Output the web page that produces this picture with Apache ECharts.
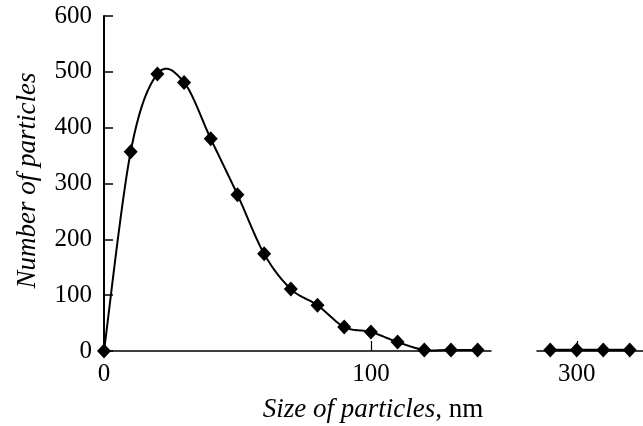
<!DOCTYPE html>
<html>
<head>
<meta charset="utf-8">
<script src="https://cdn.jsdelivr.net/npm/echarts@6/dist/echarts.min.js"></script>
<style>
html,body{margin:0;padding:0;background:#fff;}
#chart{width:643px;height:426px;}
</style>
</head>
<body>
<div id="chart"></div>
<script>
// Data
const sizesMain = [0, 10, 20, 30, 40, 50, 60, 70, 80, 90, 100, 110, 120, 130, 140];
const countsMain = [0, 357, 496, 481, 380, 280, 174, 111, 82, 43, 34, 16, 2, 2, 2];
const sizesTail = [290, 300, 310, 320];
const countsTail = [2, 2, 2, 2];
const yTicks = [0, 100, 200, 300, 400, 500, 600];
const xTicksMain = [0, 100];
const xTicksTail = [300];

const FONT = 'Liberation Serif';
const chart = echarts.init(document.getElementById('chart'));

const mainData = sizesMain.map((s, i) => [s, countsMain[i]]);
const tailData = sizesTail.map((s, i) => [s, countsTail[i]]);

const labelStyle = {color: '#000', fontFamily: FONT, fontSize: 25};

// Catmull-Rom spline through the data points, in pixel space (via the axes)
function splineRender(params, api) {
  if (params.dataIndex !== 0) return null;
  const pts = mainData.map(d => api.coord(d));
  const out = [];
  const n = pts.length;
  for (let i = 0; i < n - 1; i++) {
    const p0 = pts[Math.max(0, i - 1)], p1 = pts[i], p2 = pts[i + 1], p3 = pts[Math.min(n - 1, i + 2)];
    const c1 = [p1[0] + (p2[0] - p0[0]) / 6, p1[1] + (p2[1] - p0[1]) / 6];
    const c2 = [p2[0] - (p3[0] - p1[0]) / 6, p2[1] - (p3[1] - p1[1]) / 6];
    const steps = 24;
    for (let s = (i === 0 ? 0 : 1); s <= steps; s++) {
      const t = s / steps, u = 1 - t;
      const a = u * u * u, b = 3 * u * u * t, c = 3 * u * t * t, d = t * t * t;
      out.push([a * p1[0] + b * c1[0] + c * c2[0] + d * p2[0],
                a * p1[1] + b * c1[1] + c * c2[1] + d * p2[1]]);
    }
  }
  return {
    type: 'polyline',
    shape: {points: out},
    style: {stroke: '#000', lineWidth: 2, fill: null},
    silent: true
  };
}

chart.setOption({
  animation: false,
  backgroundColor: '#fff',
  title: {
    text: '{i|Size of particles}{r|, nm}',
    left: 368,
    textAlign: 'center',
    top: 391,
    textStyle: {
      fontWeight: 'normal',
      rich: {
        i: {fontFamily: FONT, fontStyle: 'italic', fontWeight: 'normal', fontSize: 27, color: '#000'},
        r: {fontFamily: FONT, fontWeight: 'normal', fontSize: 27, color: '#000'}
      }
    }
  },
  grid: [
    {left: 104, width: 387, top: 16, bottom: 75, containLabel: false},
    {left: 537, width: 107, top: 16, bottom: 75, containLabel: false}
  ],
  xAxis: [
    {
      type: 'value', gridIndex: 0, min: 0, max: 145,
      axisLine: {show: true, lineStyle: {color: '#000', width: 1.6}},
      axisTick: {show: true, inside: true, length: 10, customValues: xTicksMain, lineStyle: {color: '#000', width: 1.2}},
      axisLabel: Object.assign({customValues: xTicksMain, margin: 11}, labelStyle),
      splitLine: {show: false}
    },
    {
      type: 'value', gridIndex: 1, min: 285, max: 325,
      axisLine: {show: true, lineStyle: {color: '#000', width: 1.6}},
      axisTick: {show: true, inside: true, length: 10, customValues: xTicksTail, lineStyle: {color: '#000', width: 1.2}},
      axisLabel: Object.assign({customValues: xTicksTail, margin: 11}, labelStyle),
      splitLine: {show: false}
    }
  ],
  yAxis: [
    {
      type: 'value', gridIndex: 0, min: 0, max: 600, interval: 100,
      name: 'Number of particles',
      nameLocation: 'middle',
      nameGap: 63,
      nameTextStyle: {fontFamily: FONT, fontStyle: 'italic', fontSize: 27, color: '#000', padding: [0, 0, 0, 6]},
      axisLine: {show: true, lineStyle: {color: '#000', width: 2}},
      axisTick: {show: true, inside: true, length: 9, lineStyle: {color: '#000', width: 1.5}},
      axisLabel: Object.assign({margin: 12}, labelStyle),
      splitLine: {show: false}
    },
    {
      type: 'value', gridIndex: 1, min: 0, max: 600, interval: 100, show: false
    }
  ],
  series: [
    {
      type: 'custom', xAxisIndex: 0, yAxisIndex: 0,
      data: mainData, renderItem: splineRender, z: 2
    },
    {
      type: 'scatter', xAxisIndex: 0, yAxisIndex: 0,
      data: mainData, clip: false,
      symbol: 'diamond', symbolSize: [14, 15],
      itemStyle: {color: '#000', opacity: 1}, z: 3
    },
    {
      type: 'line', xAxisIndex: 1, yAxisIndex: 1,
      data: tailData, clip: false,
      symbol: 'diamond', symbolSize: [14, 15],
      lineStyle: {color: '#000', width: 2.5},
      itemStyle: {color: '#000', opacity: 1}
    }
  ]
});
</script>
</body>
</html>
